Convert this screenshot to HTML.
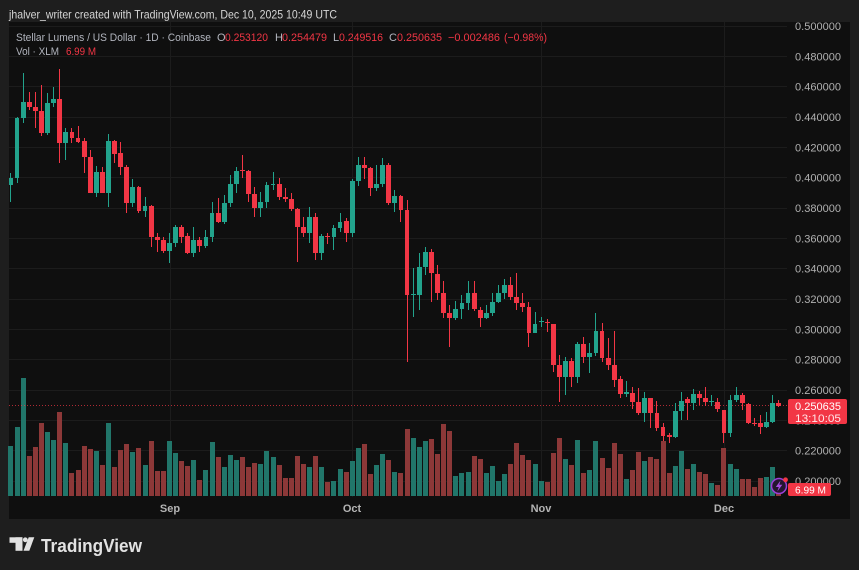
<!DOCTYPE html>
<html><head><meta charset="utf-8"><style>
html,body{margin:0;padding:0;background:#1e1e1e;width:859px;height:570px;overflow:hidden;position:relative;font-family:"Liberation Sans",sans-serif}
svg{position:absolute;left:0;top:0}
.c,.v{position:absolute;left:7.95px;top:0;display:flex;height:570px}
.c i,.v i{position:relative;width:6.1px;height:570px;flex:none;display:block}
.c i::before{content:"";position:absolute;left:2.55px;width:1px;top:calc(var(--h)*1px);height:calc((var(--l) - var(--h))*1px);background:var(--k)}
.c i::after{content:"";position:absolute;left:0.65px;width:4.8px;top:calc(var(--t)*1px);height:max(1px,calc((var(--b) - var(--t))*1px));background:var(--k)}
.c .g{--k:#22a38c}.c .r{--k:#f23645}
.v i::after{content:"";position:absolute;left:0.55px;width:5px;top:calc(var(--v)*1px);height:calc((496 - var(--v))*1px);background:var(--k)}
.v .g{--k:#21766a}.v .r{--k:#8c3838}
</style></head><body>
<svg width="859" height="570">
<rect x="9" y="22" width="841" height="497" fill="#0f0f0f"/>
<g stroke="#1c1c1c" stroke-width="1">
<line x1="9" x2="787" y1="26.5" y2="26.5"/><line x1="9" x2="787" y1="56.5" y2="56.5"/><line x1="9" x2="787" y1="86.5" y2="86.5"/><line x1="9" x2="787" y1="117.5" y2="117.5"/><line x1="9" x2="787" y1="147.5" y2="147.5"/><line x1="9" x2="787" y1="177.5" y2="177.5"/><line x1="9" x2="787" y1="208.5" y2="208.5"/><line x1="9" x2="787" y1="238.5" y2="238.5"/><line x1="9" x2="787" y1="268.5" y2="268.5"/><line x1="9" x2="787" y1="299.5" y2="299.5"/><line x1="9" x2="787" y1="329.5" y2="329.5"/><line x1="9" x2="787" y1="359.5" y2="359.5"/><line x1="9" x2="787" y1="390.5" y2="390.5"/><line x1="9" x2="787" y1="420.5" y2="420.5"/><line x1="9" x2="787" y1="450.5" y2="450.5"/><line x1="9" x2="787" y1="481.5" y2="481.5"/>
<line x1="170.5" x2="170.5" y1="22" y2="497"/><line x1="352.5" x2="352.5" y1="22" y2="497"/><line x1="541.5" x2="541.5" y1="22" y2="497"/><line x1="724.5" x2="724.5" y1="22" y2="497"/>
</g>
</svg>
<div class="v">
<i class=g style="--v:446"></i><i class=g style="--v:427"></i><i class=g style="--v:378"></i><i class=r style="--v:456"></i><i class=r style="--v:447"></i><i class=r style="--v:423"></i><i class=g style="--v:432"></i><i class=g style="--v:440"></i><i class=r style="--v:412"></i><i class=g style="--v:443"></i>
<i class=r style="--v:473"></i><i class=r style="--v:470"></i><i class=r style="--v:446"></i><i class=r style="--v:449"></i><i class=g style="--v:451"></i><i class=r style="--v:465"></i><i class=g style="--v:423"></i><i class=r style="--v:467"></i><i class=r style="--v:450"></i><i class=r style="--v:444"></i>
<i class=g style="--v:452"></i><i class=r style="--v:448"></i><i class=g style="--v:465"></i><i class=r style="--v:441"></i><i class=r style="--v:471"></i><i class=r style="--v:471"></i><i class=g style="--v:441"></i><i class=g style="--v:453"></i><i class=r style="--v:461"></i><i class=r style="--v:466"></i>
<i class=g style="--v:460"></i><i class=r style="--v:480"></i><i class=g style="--v:470"></i><i class=g style="--v:442"></i><i class=r style="--v:457"></i><i class=g style="--v:467"></i><i class=g style="--v:455"></i><i class=g style="--v:460"></i><i class=r style="--v:457"></i><i class=r style="--v:467"></i>
<i class=r style="--v:463"></i><i class=g style="--v:464"></i><i class=g style="--v:451"></i><i class=g style="--v:457"></i><i class=r style="--v:465"></i><i class=r style="--v:478"></i><i class=r style="--v:478"></i><i class=r style="--v:456"></i><i class=r style="--v:464"></i><i class=g style="--v:467"></i>
<i class=r style="--v:456"></i><i class=g style="--v:467"></i><i class=r style="--v:482"></i><i class=g style="--v:481"></i><i class=g style="--v:469"></i><i class=r style="--v:472"></i><i class=g style="--v:461"></i><i class=g style="--v:448"></i><i class=r style="--v:444"></i><i class=r style="--v:474"></i>
<i class=g style="--v:465"></i><i class=g style="--v:454"></i><i class=r style="--v:460"></i><i class=g style="--v:472"></i><i class=r style="--v:473"></i><i class=r style="--v:429"></i><i class=g style="--v:438"></i><i class=g style="--v:447"></i><i class=g style="--v:441"></i><i class=r style="--v:439"></i>
<i class=r style="--v:454"></i><i class=r style="--v:424"></i><i class=r style="--v:431"></i><i class=g style="--v:476"></i><i class=g style="--v:473"></i><i class=g style="--v:472"></i><i class=r style="--v:456"></i><i class=r style="--v:459"></i><i class=g style="--v:473"></i><i class=g style="--v:466"></i>
<i class=g style="--v:481"></i><i class=g style="--v:474"></i><i class=r style="--v:464"></i><i class=r style="--v:443"></i><i class=r style="--v:455"></i><i class=r style="--v:460"></i><i class=g style="--v:464"></i><i class=g style="--v:481"></i><i class=r style="--v:482"></i><i class=r style="--v:453"></i>
<i class=r style="--v:438"></i><i class=g style="--v:459"></i><i class=r style="--v:465"></i><i class=g style="--v:440"></i><i class=r style="--v:473"></i><i class=g style="--v:470"></i><i class=g style="--v:441"></i><i class=r style="--v:458"></i><i class=r style="--v:468"></i><i class=r style="--v:443"></i>
<i class=r style="--v:454"></i><i class=g style="--v:479"></i><i class=r style="--v:470"></i><i class=r style="--v:452"></i><i class=g style="--v:461"></i><i class=r style="--v:457"></i><i class=r style="--v:459"></i><i class=r style="--v:441"></i><i class=r style="--v:473"></i><i class=g style="--v:466"></i>
<i class=g style="--v:451"></i><i class=r style="--v:469"></i><i class=g style="--v:464"></i><i class=r style="--v:472"></i><i class=r style="--v:474"></i><i class=g style="--v:483"></i><i class=r style="--v:485"></i><i class=r style="--v:448"></i><i class=g style="--v:464"></i><i class=g style="--v:469"></i>
<i class=r style="--v:479"></i><i class=r style="--v:479"></i><i class=r style="--v:487"></i><i class=r style="--v:478"></i><i class=g style="--v:477"></i><i class=g style="--v:467"></i><i class=r style="--v:480"></i>
</div>
<svg width="859" height="570"><line x1="9" x2="788" y1="405.5" y2="405.5" stroke="#f23645" stroke-opacity="0.7" stroke-width="1" stroke-dasharray="1 2"/></svg>
<div class="c">
<i class=g style="--h:173;--l:202;--t:178;--b:185"></i><i class=g style="--h:117;--l:183;--t:118;--b:178"></i><i class=g style="--h:73;--l:123;--t:102;--b:118"></i><i class=r style="--h:92;--l:110;--t:102;--b:107"></i><i class=r style="--h:92;--l:128;--t:107;--b:111"></i><i class=r style="--h:85;--l:136;--t:111;--b:133"></i><i class=g style="--h:93;--l:135;--t:103;--b:133"></i><i class=g style="--h:87;--l:107;--t:99;--b:103"></i><i class=r style="--h:69;--l:163;--t:99;--b:143"></i><i class=g style="--h:128;--l:160;--t:132;--b:143"></i>
<i class=r style="--h:128;--l:143;--t:132;--b:138"></i><i class=r style="--h:126;--l:143;--t:138;--b:142"></i><i class=r style="--h:138;--l:173;--t:141;--b:157"></i><i class=r style="--h:150;--l:193;--t:157;--b:193"></i><i class=g style="--h:166;--l:197;--t:172;--b:193"></i><i class=r style="--h:167;--l:193;--t:172;--b:193"></i><i class=g style="--h:134;--l:207;--t:141;--b:193"></i><i class=r style="--h:140;--l:163;--t:141;--b:154"></i><i class=r style="--h:142;--l:175;--t:153;--b:167"></i><i class=r style="--h:165;--l:213;--t:167;--b:203"></i>
<i class=g style="--h:179;--l:207;--t:187;--b:203"></i><i class=r style="--h:186;--l:213;--t:187;--b:211"></i><i class=g style="--h:197;--l:217;--t:206;--b:211"></i><i class=r style="--h:205;--l:247;--t:206;--b:237"></i><i class=r style="--h:233;--l:252;--t:237;--b:240"></i><i class=r style="--h:237;--l:253;--t:240;--b:251"></i><i class=g style="--h:233;--l:263;--t:243;--b:251"></i><i class=g style="--h:225;--l:247;--t:227;--b:243"></i><i class=r style="--h:225;--l:243;--t:227;--b:237"></i><i class=r style="--h:233;--l:254;--t:236;--b:253"></i>
<i class=g style="--h:227;--l:257;--t:240;--b:253"></i><i class=r style="--h:237;--l:252;--t:240;--b:246"></i><i class=g style="--h:230;--l:248;--t:237;--b:246"></i><i class=g style="--h:202;--l:242;--t:213;--b:237"></i><i class=r style="--h:198;--l:223;--t:213;--b:222"></i><i class=g style="--h:195;--l:224;--t:203;--b:222"></i><i class=g style="--h:175;--l:207;--t:184;--b:203"></i><i class=g style="--h:167;--l:193;--t:171;--b:184"></i><i class=r style="--h:155;--l:178;--t:170;--b:171"></i><i class=r style="--h:170;--l:202;--t:171;--b:194"></i>
<i class=r style="--h:187;--l:217;--t:194;--b:208"></i><i class=g style="--h:192;--l:217;--t:202;--b:208"></i><i class=g style="--h:182;--l:208;--t:185;--b:202"></i><i class=g style="--h:172;--l:190;--t:184;--b:185"></i><i class=r style="--h:178;--l:200;--t:184;--b:197"></i><i class=r style="--h:188;--l:202;--t:197;--b:199"></i><i class=r style="--h:193;--l:211;--t:199;--b:209"></i><i class=r style="--h:208;--l:262;--t:209;--b:227"></i><i class=r style="--h:217;--l:237;--t:227;--b:233"></i><i class=g style="--h:207;--l:243;--t:217;--b:233"></i>
<i class=r style="--h:213;--l:260;--t:217;--b:253"></i><i class=g style="--h:234;--l:260;--t:236;--b:253"></i><i class=r style="--h:233;--l:244;--t:236;--b:237"></i><i class=g style="--h:225;--l:250;--t:228;--b:237"></i><i class=g style="--h:213;--l:232;--t:222;--b:228"></i><i class=r style="--h:218;--l:242;--t:221;--b:233"></i><i class=g style="--h:179;--l:237;--t:181;--b:233"></i><i class=g style="--h:157;--l:186;--t:165;--b:181"></i><i class=r style="--h:157;--l:179;--t:165;--b:168"></i><i class=r style="--h:167;--l:196;--t:168;--b:188"></i>
<i class=g style="--h:165;--l:191;--t:184;--b:188"></i><i class=g style="--h:158;--l:187;--t:165;--b:184"></i><i class=r style="--h:163;--l:205;--t:165;--b:203"></i><i class=g style="--h:190;--l:212;--t:196;--b:203"></i><i class=r style="--h:195;--l:222;--t:196;--b:210"></i><i class=r style="--h:200;--l:362;--t:210;--b:295"></i><i class=g style="--h:268;--l:317;--t:294;--b:295"></i><i class=g style="--h:253;--l:310;--t:267;--b:295"></i><i class=g style="--h:247;--l:275;--t:252;--b:267"></i><i class=r style="--h:249;--l:302;--t:252;--b:273"></i>
<i class=r style="--h:265;--l:300;--t:274;--b:293"></i><i class=r style="--h:281;--l:318;--t:293;--b:313"></i><i class=r style="--h:305;--l:347;--t:313;--b:318"></i><i class=g style="--h:301;--l:320;--t:309;--b:318"></i><i class=g style="--h:295;--l:319;--t:303;--b:309"></i><i class=g style="--h:281;--l:310;--t:293;--b:303"></i><i class=r style="--h:281;--l:311;--t:293;--b:309"></i><i class=r style="--h:307;--l:327;--t:310;--b:318"></i><i class=g style="--h:305;--l:319;--t:313;--b:318"></i><i class=g style="--h:293;--l:316;--t:302;--b:313"></i>
<i class=g style="--h:285;--l:303;--t:293;--b:302"></i><i class=g style="--h:279;--l:299;--t:285;--b:293"></i><i class=r style="--h:277;--l:300;--t:285;--b:297"></i><i class=r style="--h:273;--l:310;--t:297;--b:303"></i><i class=r style="--h:293;--l:312;--t:303;--b:307"></i><i class=r style="--h:302;--l:347;--t:307;--b:333"></i><i class=g style="--h:312;--l:333;--t:324;--b:333"></i><i class=g style="--h:317;--l:327;--t:321;--b:322"></i><i class=r style="--h:319;--l:332;--t:322;--b:323"></i><i class=r style="--h:324;--l:372;--t:324;--b:365"></i>
<i class=r style="--h:355;--l:402;--t:365;--b:377"></i><i class=g style="--h:357;--l:395;--t:361;--b:377"></i><i class=r style="--h:358;--l:387;--t:361;--b:377"></i><i class=g style="--h:342;--l:383;--t:344;--b:377"></i><i class=r style="--h:337;--l:363;--t:344;--b:357"></i><i class=g style="--h:343;--l:373;--t:353;--b:357"></i><i class=g style="--h:313;--l:356;--t:331;--b:353"></i><i class=r style="--h:323;--l:362;--t:331;--b:358"></i><i class=r style="--h:338;--l:370;--t:358;--b:365"></i><i class=r style="--h:331;--l:387;--t:365;--b:380"></i>
<i class=r style="--h:376;--l:398;--t:379;--b:394"></i><i class=g style="--h:381;--l:397;--t:392;--b:394"></i><i class=r style="--h:387;--l:409;--t:393;--b:402"></i><i class=r style="--h:388;--l:415;--t:402;--b:413"></i><i class=g style="--h:392;--l:422;--t:398;--b:413"></i><i class=r style="--h:398;--l:428;--t:398;--b:413"></i><i class=r style="--h:401;--l:431;--t:413;--b:428"></i><i class=r style="--h:423;--l:441;--t:427;--b:436"></i><i class=r style="--h:433;--l:443;--t:435;--b:437"></i><i class=g style="--h:403;--l:438;--t:411;--b:437"></i>
<i class=g style="--h:392;--l:420;--t:401;--b:411"></i><i class=r style="--h:397;--l:420;--t:399;--b:403"></i><i class=g style="--h:389;--l:410;--t:394;--b:403"></i><i class=r style="--h:391;--l:405;--t:394;--b:398"></i><i class=r style="--h:387;--l:406;--t:398;--b:402"></i><i class=g style="--h:395;--l:406;--t:401;--b:402"></i><i class=r style="--h:398;--l:412;--t:402;--b:409"></i><i class=r style="--h:410;--l:443;--t:410;--b:433"></i><i class=g style="--h:395;--l:437;--t:400;--b:433"></i><i class=g style="--h:387;--l:402;--t:395;--b:400"></i>
<i class=r style="--h:393;--l:410;--t:395;--b:403"></i><i class=r style="--h:403;--l:424;--t:404;--b:423"></i><i class=r style="--h:418;--l:426;--t:423;--b:424"></i><i class=r style="--h:415;--l:434;--t:423;--b:427"></i><i class=g style="--h:412;--l:428;--t:422;--b:427"></i><i class=g style="--h:395;--l:423;--t:403;--b:422"></i><i class=r style="--h:400;--l:407;--t:403;--b:406"></i>
</div>
<svg width="859" height="570" font-family="'Liberation Sans',sans-serif">
<text x="9" y="18.5" font-size="12" fill="#d6d6d6" textLength="328" lengthAdjust="spacingAndGlyphs">jhalver_writer created with TradingView.com, Dec 10, 2025 10:49 UTC</text>
<g font-size="11">
<text x="16" y="41" fill="#b2b5be" textLength="195" lengthAdjust="spacingAndGlyphs">Stellar Lumens / US Dollar · 1D · Coinbase</text>
<text x="217" y="41" fill="#b2b5be">O</text><text x="225" y="41" fill="#f23645" textLength="43" lengthAdjust="spacingAndGlyphs">0.253120</text>
<text x="275" y="41" fill="#b2b5be">H</text><text x="282" y="41" fill="#f23645" textLength="45" lengthAdjust="spacingAndGlyphs">0.254479</text>
<text x="333" y="41" fill="#b2b5be">L</text><text x="339" y="41" fill="#f23645" textLength="44" lengthAdjust="spacingAndGlyphs">0.249516</text>
<text x="389" y="41" fill="#b2b5be">C</text><text x="397" y="41" fill="#f23645" textLength="45" lengthAdjust="spacingAndGlyphs">0.250635</text>
<text x="448" y="41" fill="#f23645" textLength="52" lengthAdjust="spacingAndGlyphs">−0.002486</text>
<text x="504" y="41" fill="#f23645" textLength="43" lengthAdjust="spacingAndGlyphs">(−0.98%)</text>
<text x="16" y="55" fill="#b2b5be" textLength="43" lengthAdjust="spacingAndGlyphs">Vol · XLM</text>
<text x="66" y="55" fill="#f23645" textLength="30" lengthAdjust="spacingAndGlyphs">6.99 M</text>
</g>
<g font-size="11" fill="#b0b0b0">
<text x="795" y="30" textLength="46" lengthAdjust="spacingAndGlyphs">0.500000</text>
<text x="795" y="60.3" textLength="46" lengthAdjust="spacingAndGlyphs">0.480000</text>
<text x="795" y="90.7" textLength="46" lengthAdjust="spacingAndGlyphs">0.460000</text>
<text x="795" y="121" textLength="46" lengthAdjust="spacingAndGlyphs">0.440000</text>
<text x="795" y="151.3" textLength="46" lengthAdjust="spacingAndGlyphs">0.420000</text>
<text x="795" y="181.7" textLength="46" lengthAdjust="spacingAndGlyphs">0.400000</text>
<text x="795" y="212" textLength="46" lengthAdjust="spacingAndGlyphs">0.380000</text>
<text x="795" y="242.3" textLength="46" lengthAdjust="spacingAndGlyphs">0.360000</text>
<text x="795" y="272.7" textLength="46" lengthAdjust="spacingAndGlyphs">0.340000</text>
<text x="795" y="303" textLength="46" lengthAdjust="spacingAndGlyphs">0.320000</text>
<text x="795" y="333.3" textLength="46" lengthAdjust="spacingAndGlyphs">0.300000</text>
<text x="795" y="363.7" textLength="46" lengthAdjust="spacingAndGlyphs">0.280000</text>
<text x="795" y="394" textLength="46" lengthAdjust="spacingAndGlyphs">0.260000</text>
<text x="795" y="424.3" textLength="46" lengthAdjust="spacingAndGlyphs">0.240000</text>
<text x="795" y="454.7" textLength="46" lengthAdjust="spacingAndGlyphs">0.220000</text>
<text x="795" y="485" textLength="46" lengthAdjust="spacingAndGlyphs">0.200000</text>
</g>
<g font-size="11" font-weight="bold" fill="#b4b4b4" text-anchor="middle">
<text x="170" y="512">Sep</text><text x="352" y="512">Oct</text><text x="541" y="512">Nov</text><text x="724" y="512">Dec</text>
</g>
<rect x="788" y="399" width="59" height="25" rx="2" fill="#f23645"/>
<text x="795" y="410" font-size="11" fill="#ffffff" textLength="46" lengthAdjust="spacingAndGlyphs">0.250635</text>
<text x="795" y="422" font-size="11" fill="#ffe6e8" textLength="46" lengthAdjust="spacingAndGlyphs">13:10:05</text>
<rect x="788" y="483" width="43" height="13" rx="2" fill="#f23645"/>
<text x="795" y="493.5" font-size="10.5" fill="#ffffff" textLength="31" lengthAdjust="spacingAndGlyphs">6.99 M</text>
<circle cx="779" cy="486" r="7.5" fill="#24152f" stroke="#9b3fd6" stroke-width="1.5"/>
<path d="M780.5,480.5 L775.8,487 L778.8,487 L777.3,491.5 L782.3,484.8 L779.3,484.8 Z" fill="#a54be0"/>
<circle cx="785.5" cy="479.8" r="2.4" fill="#f23645"/>
<g fill="#e2e2e2">
<rect x="9.5" y="537.3" width="13" height="5.5"/>
<rect x="15.5" y="537.3" width="7" height="13.5"/>
<circle cx="25.3" cy="539.8" r="2.4"/>
<polygon points="23.5,550.8 29.3,550.8 34.3,537.3 28.7,537.3"/>
<text x="41" y="552" font-size="18" font-weight="bold" textLength="101" lengthAdjust="spacingAndGlyphs">TradingView</text>
</g>
</svg>
</body></html>
